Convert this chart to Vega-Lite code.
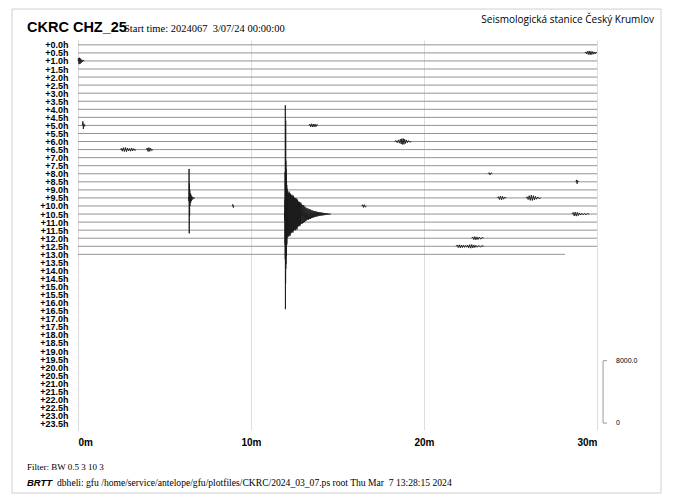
{
  "$schema": "https://vega.github.io/schema/vega-lite/v6.json",
  "width": 519,
  "height": 390,
  "autosize": {"type": "none"},
  "padding": {"left": 78, "top": 40, "right": 77, "bottom": 73},
  "background": "white",
  "config": {"view": {"stroke": null}},
  "resolve": {"axis": {"x": "independent", "y": "independent"}},
  "datasets": {
    "rows": [
      {"v": 0, "t": 0, "t2": 30}, {"v": 0.5, "t": 0, "t2": 30}, {"v": 1, "t": 0, "t2": 30}, {"v": 1.5, "t": 0, "t2": 30},
      {"v": 2, "t": 0, "t2": 30}, {"v": 2.5, "t": 0, "t2": 30}, {"v": 3, "t": 0, "t2": 30}, {"v": 3.5, "t": 0, "t2": 30},
      {"v": 4, "t": 0, "t2": 30}, {"v": 4.5, "t": 0, "t2": 30}, {"v": 5, "t": 0, "t2": 30}, {"v": 5.5, "t": 0, "t2": 30},
      {"v": 6, "t": 0, "t2": 30}, {"v": 6.5, "t": 0, "t2": 30}, {"v": 7, "t": 0, "t2": 30}, {"v": 7.5, "t": 0, "t2": 30},
      {"v": 8, "t": 0, "t2": 30}, {"v": 8.5, "t": 0, "t2": 30}, {"v": 9, "t": 0, "t2": 30}, {"v": 9.5, "t": 0, "t2": 30},
      {"v": 10, "t": 0, "t2": 30}, {"v": 10.5, "t": 0, "t2": 30}, {"v": 11, "t": 0, "t2": 30}, {"v": 11.5, "t": 0, "t2": 30},
      {"v": 12, "t": 0, "t2": 30}, {"v": 12.5, "t": 0, "t2": 30}, {"v": 13, "t": 0, "t2": 28.15}
    ],
    "events": [
      {"e": 1, "t": 29.3, "v": 0.5}, {"e": 1, "t": 29.35, "v": 0.44}, {"e": 1, "t": 29.4, "v": 0.57}, {"e": 1, "t": 29.45, "v": 0.4}, {"e": 1, "t": 29.5, "v": 0.6}, {"e": 1, "t": 29.55, "v": 0.38}, {"e": 1, "t": 29.6, "v": 0.62}, {"e": 1, "t": 29.65, "v": 0.4}, {"e": 1, "t": 29.7, "v": 0.6}, {"e": 1, "t": 29.75, "v": 0.42}, {"e": 1, "t": 29.8, "v": 0.58}, {"e": 1, "t": 29.85, "v": 0.44}, {"e": 1, "t": 29.9, "v": 0.56}, {"e": 1, "t": 29.95, "v": 0.45}, {"e": 1, "t": 30, "v": 0.5},

      {"e": 2, "t": 0, "v": 1}, {"e": 2, "t": 0.03, "v": 0.82}, {"e": 2, "t": 0.06, "v": 1.2}, {"e": 2, "t": 0.09, "v": 0.8}, {"e": 2, "t": 0.12, "v": 1.18}, {"e": 2, "t": 0.15, "v": 0.86}, {"e": 2, "t": 0.18, "v": 1.12}, {"e": 2, "t": 0.22, "v": 0.92}, {"e": 2, "t": 0.26, "v": 1.06}, {"e": 2, "t": 0.3, "v": 0.96}, {"e": 2, "t": 0.36, "v": 1},

      {"e": 3, "t": 0.25, "v": 5}, {"e": 3, "t": 0.28, "v": 4.75}, {"e": 3, "t": 0.31, "v": 5.22}, {"e": 3, "t": 0.34, "v": 4.9}, {"e": 3, "t": 0.37, "v": 5.06}, {"e": 3, "t": 0.42, "v": 5},

      {"e": 4, "t": 13.35, "v": 5}, {"e": 4, "t": 13.4, "v": 4.92}, {"e": 4, "t": 13.45, "v": 5.09}, {"e": 4, "t": 13.5, "v": 4.9}, {"e": 4, "t": 13.55, "v": 5.1}, {"e": 4, "t": 13.6, "v": 4.91}, {"e": 4, "t": 13.65, "v": 5.09}, {"e": 4, "t": 13.7, "v": 4.92}, {"e": 4, "t": 13.75, "v": 5.08}, {"e": 4, "t": 13.8, "v": 4.94}, {"e": 4, "t": 13.87, "v": 5},

      {"e": 5, "t": 18.3, "v": 6}, {"e": 5, "t": 18.38, "v": 5.94}, {"e": 5, "t": 18.45, "v": 6.07}, {"e": 5, "t": 18.52, "v": 5.9}, {"e": 5, "t": 18.58, "v": 6.1}, {"e": 5, "t": 18.63, "v": 5.86}, {"e": 5, "t": 18.68, "v": 6.15}, {"e": 5, "t": 18.72, "v": 5.82}, {"e": 5, "t": 18.76, "v": 6.18}, {"e": 5, "t": 18.8, "v": 5.82}, {"e": 5, "t": 18.84, "v": 6.17}, {"e": 5, "t": 18.88, "v": 5.86}, {"e": 5, "t": 18.93, "v": 6.12}, {"e": 5, "t": 18.98, "v": 5.9}, {"e": 5, "t": 19.04, "v": 6.08}, {"e": 5, "t": 19.1, "v": 5.94}, {"e": 5, "t": 19.18, "v": 6.04}, {"e": 5, "t": 19.26, "v": 6},

      {"e": 6, "t": 2.45, "v": 6.5}, {"e": 6, "t": 2.5, "v": 6.42}, {"e": 6, "t": 2.56, "v": 6.6}, {"e": 6, "t": 2.62, "v": 6.38}, {"e": 6, "t": 2.68, "v": 6.62}, {"e": 6, "t": 2.74, "v": 6.37}, {"e": 6, "t": 2.8, "v": 6.63}, {"e": 6, "t": 2.86, "v": 6.4}, {"e": 6, "t": 2.92, "v": 6.58}, {"e": 6, "t": 2.98, "v": 6.44}, {"e": 6, "t": 3.04, "v": 6.6}, {"e": 6, "t": 3.1, "v": 6.4}, {"e": 6, "t": 3.16, "v": 6.58}, {"e": 6, "t": 3.22, "v": 6.44}, {"e": 6, "t": 3.28, "v": 6.55}, {"e": 6, "t": 3.36, "v": 6.5},

      {"e": 7, "t": 3.95, "v": 6.5}, {"e": 7, "t": 4, "v": 6.4}, {"e": 7, "t": 4.05, "v": 6.62}, {"e": 7, "t": 4.1, "v": 6.37}, {"e": 7, "t": 4.15, "v": 6.61}, {"e": 7, "t": 4.2, "v": 6.42}, {"e": 7, "t": 4.26, "v": 6.56}, {"e": 7, "t": 4.33, "v": 6.5},

      {"e": 8, "t": 6.38, "v": 9.5}, {"e": 8, "t": 6.4, "v": 9.45}, {"e": 8, "t": 6.41, "v": 9.7}, {"e": 8, "t": 6.42, "v": 7.7}, {"e": 8, "t": 6.43, "v": 11.7}, {"e": 8, "t": 6.44, "v": 8.6}, {"e": 8, "t": 6.45, "v": 10.6}, {"e": 8, "t": 6.46, "v": 9.0}, {"e": 8, "t": 6.47, "v": 10.0}, {"e": 8, "t": 6.49, "v": 9.2}, {"e": 8, "t": 6.51, "v": 9.8}, {"e": 8, "t": 6.53, "v": 9.3}, {"e": 8, "t": 6.55, "v": 9.7}, {"e": 8, "t": 6.58, "v": 9.4}, {"e": 8, "t": 6.62, "v": 9.6}, {"e": 8, "t": 6.66, "v": 9.45}, {"e": 8, "t": 6.7, "v": 9.55}, {"e": 8, "t": 6.75, "v": 9.5},

      {"e": 9, "t": 24.25, "v": 9.5}, {"e": 9, "t": 24.3, "v": 9.42}, {"e": 9, "t": 24.36, "v": 9.6}, {"e": 9, "t": 24.42, "v": 9.38}, {"e": 9, "t": 24.48, "v": 9.62}, {"e": 9, "t": 24.54, "v": 9.4}, {"e": 9, "t": 24.6, "v": 9.58}, {"e": 9, "t": 24.68, "v": 9.45}, {"e": 9, "t": 24.76, "v": 9.5},

      {"e": 10, "t": 25.9, "v": 9.5}, {"e": 10, "t": 25.96, "v": 9.43}, {"e": 10, "t": 26.02, "v": 9.6}, {"e": 10, "t": 26.08, "v": 9.36}, {"e": 10, "t": 26.14, "v": 9.65}, {"e": 10, "t": 26.2, "v": 9.33}, {"e": 10, "t": 26.26, "v": 9.66}, {"e": 10, "t": 26.32, "v": 9.36}, {"e": 10, "t": 26.38, "v": 9.62}, {"e": 10, "t": 26.44, "v": 9.4}, {"e": 10, "t": 26.5, "v": 9.58}, {"e": 10, "t": 26.58, "v": 9.44}, {"e": 10, "t": 26.66, "v": 9.55}, {"e": 10, "t": 26.75, "v": 9.5},

      {"e": 11, "t": 11.9, "v": 10.5}, {"e": 11, "t": 11.95, "v": 10.48}, {"e": 11, "t": 11.96, "v": 10.9}, {"e": 11, "t": 11.965, "v": 9.6}, {"e": 11, "t": 11.97, "v": 12.4}, {"e": 11, "t": 11.975, "v": 7.9}, {"e": 11, "t": 11.98, "v": 13.3}, {"e": 11, "t": 11.985, "v": 3.75}, {"e": 11, "t": 11.99, "v": 16.4}, {"e": 11, "t": 11.995, "v": 6.2}, {"e": 11, "t": 12.0, "v": 14.8}, {"e": 11, "t": 12.005, "v": 4.7}, {"e": 11, "t": 12.01, "v": 13.9}, {"e": 11, "t": 12.015, "v": 7.2}, {"e": 11, "t": 12.02, "v": 13.6}, {"e": 11, "t": 12.025, "v": 7.7}, {"e": 11, "t": 12.03, "v": 13.1}, {"e": 11, "t": 12.035, "v": 8.0}, {"e": 11, "t": 12.04, "v": 12.9}, {"e": 11, "t": 12.045, "v": 8.3}, {"e": 11, "t": 12.05, "v": 12.6}, {"e": 11, "t": 12.055, "v": 8.5}, {"e": 11, "t": 12.06, "v": 12.3}, {"e": 11, "t": 12.065, "v": 8.7}, {"e": 11, "t": 12.07, "v": 12.4}, {"e": 11, "t": 12.075, "v": 8.9}, {"e": 11, "t": 12.08, "v": 12.0}, {"e": 11, "t": 12.085, "v": 9.0}, {"e": 11, "t": 12.09, "v": 11.9}, {"e": 11, "t": 12.095, "v": 9.1}, {"e": 11, "t": 12.1, "v": 11.8},
      {"e": 11, "t": 12.12, "v": 9.15}, {"e": 11, "t": 12.14, "v": 11.85}, {"e": 11, "t": 12.16, "v": 9.2}, {"e": 11, "t": 12.18, "v": 11.9}, {"e": 11, "t": 12.2, "v": 9.1}, {"e": 11, "t": 12.22, "v": 11.8}, {"e": 11, "t": 12.24, "v": 9.2}, {"e": 11, "t": 12.26, "v": 11.85}, {"e": 11, "t": 12.28, "v": 9.25}, {"e": 11, "t": 12.3, "v": 11.7}, {"e": 11, "t": 12.32, "v": 9.35}, {"e": 11, "t": 12.34, "v": 11.65}, {"e": 11, "t": 12.36, "v": 9.3}, {"e": 11, "t": 12.38, "v": 11.6}, {"e": 11, "t": 12.4, "v": 9.4}, {"e": 11, "t": 12.42, "v": 11.65}, {"e": 11, "t": 12.44, "v": 9.35}, {"e": 11, "t": 12.46, "v": 11.55}, {"e": 11, "t": 12.48, "v": 9.45}, {"e": 11, "t": 12.5, "v": 11.5}, {"e": 11, "t": 12.52, "v": 9.5}, {"e": 11, "t": 12.54, "v": 11.45}, {"e": 11, "t": 12.56, "v": 9.55}, {"e": 11, "t": 12.58, "v": 11.5}, {"e": 11, "t": 12.6, "v": 9.5}, {"e": 11, "t": 12.62, "v": 11.4}, {"e": 11, "t": 12.64, "v": 9.6}, {"e": 11, "t": 12.66, "v": 11.45}, {"e": 11, "t": 12.68, "v": 9.6}, {"e": 11, "t": 12.7, "v": 11.3}, {"e": 11, "t": 12.72, "v": 9.7}, {"e": 11, "t": 12.74, "v": 11.25}, {"e": 11, "t": 12.76, "v": 9.75}, {"e": 11, "t": 12.78, "v": 11.2}, {"e": 11, "t": 12.8, "v": 9.75}, {"e": 11, "t": 12.82, "v": 11.25}, {"e": 11, "t": 12.84, "v": 9.8}, {"e": 11, "t": 12.86, "v": 11.15}, {"e": 11, "t": 12.88, "v": 9.8}, {"e": 11, "t": 12.9, "v": 11.1},
      {"e": 11, "t": 12.93, "v": 9.9}, {"e": 11, "t": 12.96, "v": 11.1}, {"e": 11, "t": 12.99, "v": 9.95}, {"e": 11, "t": 13.02, "v": 11.05}, {"e": 11, "t": 13.05, "v": 9.95}, {"e": 11, "t": 13.08, "v": 11.0}, {"e": 11, "t": 13.11, "v": 10.05}, {"e": 11, "t": 13.14, "v": 10.95}, {"e": 11, "t": 13.17, "v": 10.1}, {"e": 11, "t": 13.2, "v": 10.9}, {"e": 11, "t": 13.23, "v": 10.15}, {"e": 11, "t": 13.26, "v": 10.85}, {"e": 11, "t": 13.29, "v": 10.15}, {"e": 11, "t": 13.32, "v": 10.85}, {"e": 11, "t": 13.35, "v": 10.2}, {"e": 11, "t": 13.38, "v": 10.8}, {"e": 11, "t": 13.41, "v": 10.2}, {"e": 11, "t": 13.44, "v": 10.8}, {"e": 11, "t": 13.47, "v": 10.25}, {"e": 11, "t": 13.5, "v": 10.75}, {"e": 11, "t": 13.53, "v": 10.27}, {"e": 11, "t": 13.56, "v": 10.73}, {"e": 11, "t": 13.59, "v": 10.3}, {"e": 11, "t": 13.62, "v": 10.7}, {"e": 11, "t": 13.65, "v": 10.31}, {"e": 11, "t": 13.68, "v": 10.69}, {"e": 11, "t": 13.71, "v": 10.33}, {"e": 11, "t": 13.74, "v": 10.67}, {"e": 11, "t": 13.77, "v": 10.35}, {"e": 11, "t": 13.8, "v": 10.65}, {"e": 11, "t": 13.83, "v": 10.36}, {"e": 11, "t": 13.86, "v": 10.64}, {"e": 11, "t": 13.89, "v": 10.38}, {"e": 11, "t": 13.92, "v": 10.62}, {"e": 11, "t": 13.95, "v": 10.39}, {"e": 11, "t": 13.98, "v": 10.61}, {"e": 11, "t": 14.01, "v": 10.4}, {"e": 11, "t": 14.04, "v": 10.6}, {"e": 11, "t": 14.07, "v": 10.41}, {"e": 11, "t": 14.1, "v": 10.59}, {"e": 11, "t": 14.13, "v": 10.42}, {"e": 11, "t": 14.16, "v": 10.58}, {"e": 11, "t": 14.19, "v": 10.43}, {"e": 11, "t": 14.22, "v": 10.57}, {"e": 11, "t": 14.25, "v": 10.44}, {"e": 11, "t": 14.28, "v": 10.56}, {"e": 11, "t": 14.31, "v": 10.45}, {"e": 11, "t": 14.34, "v": 10.55}, {"e": 11, "t": 14.37, "v": 10.46}, {"e": 11, "t": 14.4, "v": 10.54}, {"e": 11, "t": 14.43, "v": 10.46}, {"e": 11, "t": 14.46, "v": 10.54}, {"e": 11, "t": 14.5, "v": 10.47}, {"e": 11, "t": 14.54, "v": 10.53}, {"e": 11, "t": 14.58, "v": 10.48}, {"e": 11, "t": 14.62, "v": 10.5},

      {"e": 12, "t": 28.55, "v": 10.5}, {"e": 12, "t": 28.62, "v": 10.4}, {"e": 12, "t": 28.68, "v": 10.62}, {"e": 12, "t": 28.74, "v": 10.38}, {"e": 12, "t": 28.8, "v": 10.63}, {"e": 12, "t": 28.86, "v": 10.4}, {"e": 12, "t": 28.92, "v": 10.6}, {"e": 12, "t": 28.98, "v": 10.43}, {"e": 12, "t": 29.05, "v": 10.56}, {"e": 12, "t": 29.12, "v": 10.45}, {"e": 12, "t": 29.2, "v": 10.55}, {"e": 12, "t": 29.28, "v": 10.46}, {"e": 12, "t": 29.36, "v": 10.54}, {"e": 12, "t": 29.45, "v": 10.47}, {"e": 12, "t": 29.55, "v": 10.5},

      {"e": 13, "t": 22.75, "v": 12}, {"e": 13, "t": 22.82, "v": 11.92}, {"e": 13, "t": 22.88, "v": 12.09}, {"e": 13, "t": 22.94, "v": 11.9}, {"e": 13, "t": 23.0, "v": 12.1}, {"e": 13, "t": 23.06, "v": 11.92}, {"e": 13, "t": 23.12, "v": 12.08}, {"e": 13, "t": 23.2, "v": 11.93}, {"e": 13, "t": 23.28, "v": 12.06}, {"e": 13, "t": 23.36, "v": 11.95}, {"e": 13, "t": 23.45, "v": 12},

      {"e": 14, "t": 21.85, "v": 12.5}, {"e": 14, "t": 21.92, "v": 12.42}, {"e": 14, "t": 21.98, "v": 12.58}, {"e": 14, "t": 22.04, "v": 12.41}, {"e": 14, "t": 22.1, "v": 12.6}, {"e": 14, "t": 22.16, "v": 12.42}, {"e": 14, "t": 22.22, "v": 12.58}, {"e": 14, "t": 22.28, "v": 12.43}, {"e": 14, "t": 22.34, "v": 12.57}, {"e": 14, "t": 22.4, "v": 12.44}, {"e": 14, "t": 22.46, "v": 12.56}, {"e": 14, "t": 22.52, "v": 12.42}, {"e": 14, "t": 22.58, "v": 12.6}, {"e": 14, "t": 22.64, "v": 12.4}, {"e": 14, "t": 22.7, "v": 12.62}, {"e": 14, "t": 22.76, "v": 12.39}, {"e": 14, "t": 22.82, "v": 12.6}, {"e": 14, "t": 22.88, "v": 12.42}, {"e": 14, "t": 22.94, "v": 12.58}, {"e": 14, "t": 23.0, "v": 12.44}, {"e": 14, "t": 23.08, "v": 12.56}, {"e": 14, "t": 23.16, "v": 12.45}, {"e": 14, "t": 23.25, "v": 12.54}, {"e": 14, "t": 23.35, "v": 12.47}, {"e": 14, "t": 23.45, "v": 12.5},

      {"e": 15, "t": 16.4, "v": 10}, {"e": 15, "t": 16.45, "v": 9.92}, {"e": 15, "t": 16.5, "v": 10.09}, {"e": 15, "t": 16.55, "v": 9.92}, {"e": 15, "t": 16.6, "v": 10.07}, {"e": 15, "t": 16.67, "v": 10},

      {"e": 16, "t": 23.7, "v": 8}, {"e": 16, "t": 23.76, "v": 7.93}, {"e": 16, "t": 23.82, "v": 8.07}, {"e": 16, "t": 23.88, "v": 7.94}, {"e": 16, "t": 23.95, "v": 8},

      {"e": 17, "t": 28.78, "v": 8.5}, {"e": 17, "t": 28.82, "v": 8.38}, {"e": 17, "t": 28.85, "v": 8.62}, {"e": 17, "t": 28.88, "v": 8.42}, {"e": 17, "t": 28.93, "v": 8.5},

      {"e": 18, "t": 8.92, "v": 10}, {"e": 18, "t": 8.95, "v": 9.9}, {"e": 18, "t": 8.98, "v": 10.1}, {"e": 18, "t": 9.01, "v": 10}
    ]
  },
  "layer": [
    {
      "data": {"name": "rows"},
      "mark": {"type": "rule", "color": "#939393", "strokeWidth": 1},
      "encoding": {
        "x": {
          "field": "t", "type": "quantitative",
          "scale": {"domain": [0, 30], "nice": false, "zero": false},
          "axis": {
            "values": [0, 10, 20, 30], "labelExpr": "datum.value + 'm'", "title": null,
            "grid": true, "gridColor": "#dddddd", "gridWidth": 1, "domain": false, "ticks": false,
            "labelFont": "Liberation Sans", "labelFontWeight": "bold", "labelFontSize": 10, "labelColor": "#000000", "labelPadding": 7
          }
        },
        "x2": {"field": "t2"},
        "y": {
          "field": "v", "type": "quantitative",
          "scale": {"domain": [-0.3, 23.9], "reverse": true, "nice": false, "zero": false},
          "axis": {
            "values": [0, 0.5, 1, 1.5, 2, 2.5, 3, 3.5, 4, 4.5, 5, 5.5, 6, 6.5, 7, 7.5, 8, 8.5, 9, 9.5, 10, 10.5, 11, 11.5, 12, 12.5, 13, 13.5, 14, 14.5, 15, 15.5, 16, 16.5, 17, 17.5, 18, 18.5, 19, 19.5, 20, 20.5, 21, 21.5, 22, 22.5, 23, 23.5],
            "labelExpr": "'+' + format(datum.value, '.1f') + 'h'", "title": null,
            "grid": false, "domain": false, "ticks": false, "labelOverlap": false,
            "labelFont": "Liberation Sans", "labelFontWeight": "bold", "labelFontSize": 9, "labelColor": "#000000", "labelPadding": 10
          }
        }
      }
    },
    {
      "data": {"values": [{}]},
      "mark": {"type": "rect", "fillOpacity": 0, "stroke": "#cfcfcf", "strokeWidth": 1, "clip": false},
      "encoding": {
        "x": {"datum": -3.815, "type": "quantitative", "axis": null},
        "x2": {"datum": 33.7},
        "y": {"datum": -2.22, "type": "quantitative", "axis": null},
        "y2": {"datum": 27.81}
      }
    },
    {
      "data": {"name": "events"},
      "mark": {"type": "line", "color": "#1a1a1a", "strokeWidth": 0.9, "clip": false},
      "encoding": {
        "x": {"field": "t", "type": "quantitative", "axis": null},
        "y": {"field": "v", "type": "quantitative", "axis": null},
        "detail": {"field": "e", "type": "nominal"}
      }
    },
    {
      "data": {"values": [{}]},
      "mark": {"type": "rule", "color": "#999999", "strokeWidth": 1, "clip": false},
      "encoding": {"x": {"datum": 30.35, "type": "quantitative", "axis": null}, "y": {"datum": 19.6, "type": "quantitative", "axis": null}, "y2": {"datum": 23.47}}
    },
    {
      "data": {"values": [{}]},
      "mark": {"type": "rule", "color": "#999999", "strokeWidth": 1, "clip": false},
      "encoding": {"x": {"datum": 30.35, "type": "quantitative", "axis": null}, "x2": {"datum": 30.58}, "y": {"datum": 19.6, "type": "quantitative", "axis": null}}
    },
    {
      "data": {"values": [{}]},
      "mark": {"type": "rule", "color": "#999999", "strokeWidth": 1, "clip": false},
      "encoding": {"x": {"datum": 30.35, "type": "quantitative", "axis": null}, "x2": {"datum": 30.58}, "y": {"datum": 23.47, "type": "quantitative", "axis": null}}
    },
    {
      "data": {"values": [{}]},
      "mark": {"type": "text", "text": "8000.0", "font": "Liberation Sans", "fontSize": 7, "align": "left", "baseline": "middle", "color": "#000000", "clip": false},
      "encoding": {"x": {"datum": 31.1, "type": "quantitative", "axis": null}, "y": {"datum": 19.6, "type": "quantitative", "axis": null}}
    },
    {
      "data": {"values": [{}]},
      "mark": {"type": "text", "text": "0", "font": "Liberation Sans", "fontSize": 7, "align": "left", "baseline": "middle", "color": "#000000", "clip": false},
      "encoding": {"x": {"datum": 31.1, "type": "quantitative", "axis": null}, "y": {"datum": 23.47, "type": "quantitative", "axis": null}}
    },
    {
      "data": {"values": [{}]},
      "mark": {"type": "text", "text": "CKRC CHZ_25", "font": "Liberation Sans", "fontWeight": "bold", "fontSize": 14.5, "align": "left", "baseline": "alphabetic", "color": "#000000", "clip": false},
      "encoding": {"x": {"datum": -2.948, "type": "quantitative", "axis": null}, "y": {"datum": -0.8, "type": "quantitative", "axis": null}}
    },
    {
      "data": {"values": [{}]},
      "mark": {"type": "text", "text": "Start time: 2024067\u00a0 3/07/24 00:00:00", "font": "Liberation Serif", "fontSize": 10.5, "align": "left", "baseline": "alphabetic", "color": "#000000", "clip": false},
      "encoding": {"x": {"datum": 2.66, "type": "quantitative", "axis": null}, "y": {"datum": -0.8, "type": "quantitative", "axis": null}}
    },
    {
      "data": {"values": [{}]},
      "mark": {"type": "text", "text": "Seismologická stanice Český Krumlov", "font": "Open Sans", "fontSize": 10, "align": "right", "baseline": "alphabetic", "color": "#000000", "clip": false},
      "encoding": {"x": {"datum": 33.29, "type": "quantitative", "axis": null}, "y": {"datum": -1.355, "type": "quantitative", "axis": null}}
    },
    {
      "data": {"values": [{}]},
      "mark": {"type": "text", "text": "Filter: BW 0.5 3 10 3", "font": "Liberation Serif", "fontSize": 9, "align": "left", "baseline": "alphabetic", "color": "#000000", "clip": false},
      "encoding": {"x": {"datum": -2.948, "type": "quantitative", "axis": null}, "y": {"datum": 26.38, "type": "quantitative", "axis": null}}
    },
    {
      "data": {"values": [{}]},
      "mark": {"type": "text", "text": "BRTT", "font": "Liberation Sans", "fontWeight": "bold", "fontStyle": "italic", "fontSize": 9.5, "align": "left", "baseline": "alphabetic", "color": "#000000", "clip": false},
      "encoding": {"x": {"datum": -2.948, "type": "quantitative", "axis": null}, "y": {"datum": 27.37, "type": "quantitative", "axis": null}}
    },
    {
      "data": {"values": [{}]},
      "mark": {"type": "text", "text": "dbheli: gfu /home/service/antelope/gfu/plotfiles/CKRC/2024_03_07.ps root Thu Mar\u00a0 7 13:28:15 2024", "font": "Liberation Serif", "fontSize": 9.6, "align": "left", "baseline": "alphabetic", "color": "#000000", "clip": false},
      "encoding": {"x": {"datum": -1.214, "type": "quantitative", "axis": null}, "y": {"datum": 27.37, "type": "quantitative", "axis": null}}
    }
  ]
}
